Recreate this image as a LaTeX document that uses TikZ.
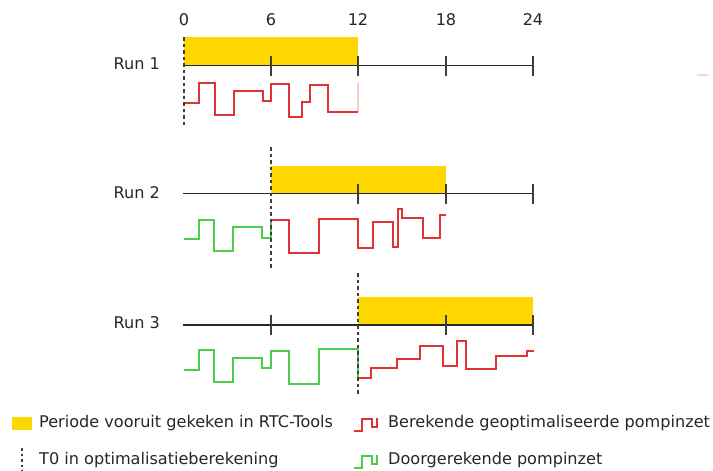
\documentclass[tikz,border=0pt]{standalone}
\usepackage{fontspec}
\setmainfont{DejaVu Sans}
\definecolor{barY}{RGB}{255,215,0}
\definecolor{sigR}{RGB}{222,52,52}
\definecolor{sigG}{RGB}{76,206,76}
\definecolor{axisC}{RGB}{40,40,40}
\begin{document}
\begin{tikzpicture}[x=1pt,y=-1pt,
  txt/.style={font=\fontsize{16.1}{19}\selectfont, text=black!85, inner sep=0pt},
  bar/.style={fill=barY, draw=none},
  axisline/.style={draw=axisC, line width=1.4pt},
  tick/.style={draw=axisC!90, line width=1.6pt},
  tzero/.style={draw=axisC!90, line width=2pt, dash pattern=on 3.5pt off 3pt},
  redsig/.style={draw=sigR, line width=1.5pt},
  greensig/.style={draw=sigG, line width=1.5pt}]
\useasboundingbox (0,0) rectangle (713,471);
% hour labels
\foreach \h/\xx in {0/184,6/271,12/358,18/446,24/533}
  \node[txt] (h\h) at (\xx,20) {\h};
% run labels
\node[txt, anchor=east] (r1) at (160,64) {Run 1};
\node[txt, anchor=east] (r2) at (160,193) {Run 2};
\node[txt, anchor=east] (r3) at (160,323) {Run 3};
% yellow bars
\fill[bar] (184,37) rectangle (358,65.5);
\fill[bar] (271,166) rectangle (446,193.5);
\fill[bar] (358,297) rectangle (533,325);
% axes
\draw[axisline] (183,65.5) -- (533,65.5);
\draw[axisline] (183,193.5) -- (533,193.5);
\draw[axisline] (183,325) -- (533,325);
% ticks
\foreach \xx in {271,358,446,533} \draw[tick] (\xx,55.5) -- (\xx,75.5);
\foreach \xx in {358,446,533} \draw[tick] (\xx,183.5) -- (\xx,203.5);
\foreach \xx in {271,446,533} \draw[tick] (\xx,315) -- (\xx,335);
% run 1 signal
\draw[redsig] (184,103) -| (199,83) -| (215,115) -| (234,91) -| (263,101) -| (271,84) -| (289,117) -| (302,102) -| (310,85) -| (328,112) -- (358,112);
\draw[sigR, opacity=0.25, line width=1.2pt] (358,112) -- (358,83);
% run 2 signal
\draw[greensig] (184,239) -| (199,220) -| (214,251) -| (233,227) -| (262,238) -| (271,220);
\draw[redsig] (271,220) -| (289,253) -| (319,219) -| (358,248) -| (373,222) -| (393,247) -| (398,209) -| (402,218) -| (423,238) -| (440,215) -- (446,215);
% run 3 signal
\draw[greensig] (184,370) -| (199,350) -| (214,382) -| (233,358) -| (262,368) -| (271,351) -| (289,384) -| (319,349) -| (358,378);
\draw[redsig] (359,378) -| (371,368) -| (397,359) -| (420,346) -| (443,366) -| (457,341) -| (466,369) -| (496,356) -| (527,351) -- (534,351);
% T0 lines
\draw[tzero] (184,37) -- (184,126);
\draw[tzero] (271,147) -- (271,268);
\draw[tzero] (358,273) -- (358,394);
% faint mark
\draw[sigR!20, line width=1.2pt] (697,75) -- (708,75);
% legend
\fill[bar] (12,417) rectangle (32,430);
\node[txt, anchor=west] (l1) at (39,423) {Periode vooruit gekeken in RTC-Tools};
\draw[tzero, line width=1.6pt, dash pattern=on 2.5pt off 3pt] (22,448) -- (22,471);
\node[txt, anchor=west] (l2) at (39,460) {T0 in optimalisatieberekening};
\draw[redsig, line width=1.3pt] (354,431) -| (362,419) -| (372,427) -| (377,418);
\node[txt, anchor=west] (l3) at (388,423) {Berekende geoptimaliseerde pompinzet};
\draw[greensig, line width=1.3pt] (354,468) -| (362,456) -| (372,464) -| (377,455);
\node[txt, anchor=west] (l4) at (388,460) {Doorgerekende pompinzet};
\end{tikzpicture}
\end{document}
